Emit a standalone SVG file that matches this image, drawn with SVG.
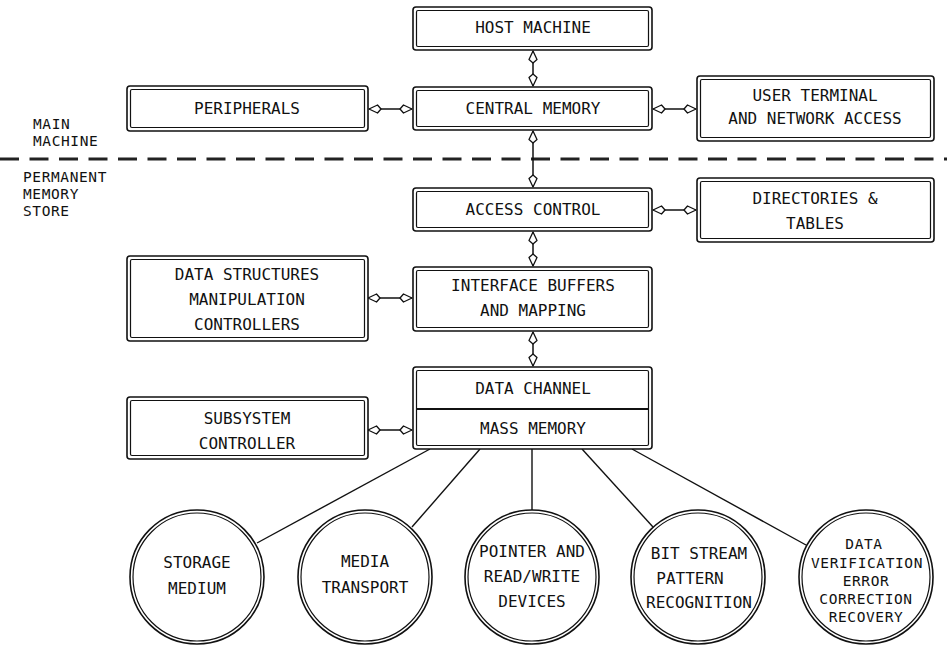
<svg xmlns="http://www.w3.org/2000/svg" width="947" height="646" viewBox="0 0 947 646">
<style>
  .o{fill:#fff;stroke:#111;stroke-width:1.6}
  .i{fill:none;stroke:#111;stroke-width:1.2}
  .t{font-family:"DejaVu Sans Mono","Liberation Mono",monospace;font-size:16px;fill:#111;text-anchor:middle}
  .s{font-family:"DejaVu Sans Mono","Liberation Mono",monospace;font-size:14.5px;letter-spacing:0.6px;fill:#111;text-anchor:middle}
  .l{font-family:"DejaVu Sans Mono","Liberation Mono",monospace;font-size:14.5px;letter-spacing:0.6px;fill:#111}
  .c{fill:none;stroke:#111;stroke-width:1.4}
  .a{fill:none;stroke:#111;stroke-width:1.5;marker-start:url(#ah);marker-end:url(#ah)}
</style>
<defs>
  <marker id="ah" markerUnits="userSpaceOnUse" markerWidth="16" markerHeight="12" viewBox="-14 -6 16 12" refX="0" refY="0" orient="auto-start-reverse">
    <path d="M0,0 L-8.5,-4 L-12,0 L-8.5,4 Z" fill="#fff" stroke="#111" stroke-width="1.3" stroke-linejoin="round"/>
  </marker>
</defs>
<rect width="947" height="646" fill="#fff"/>

<g id="labels">
  <text class="l" x="33" y="129">MAIN</text>
  <text class="l" x="33" y="146">MACHINE</text>
  <text class="l" x="23" y="182">PERMANENT</text>
  <text class="l" x="23" y="199">MEMORY</text>
  <text class="l" x="23" y="216">STORE</text>
  <line x1="0" y1="159" x2="947" y2="159" stroke="#222" stroke-width="3.2" stroke-dasharray="19,10.5"/>
</g>

<g id="connectors">
  <line class="a" x1="533" y1="51" x2="533" y2="86"/>
  <line class="a" x1="533" y1="131" x2="533" y2="187"/>
  <line class="a" x1="533" y1="232" x2="533" y2="266"/>
  <line class="a" x1="533" y1="332" x2="533" y2="366"/>
  <line class="a" x1="369" y1="109" x2="412" y2="109"/>
  <line class="a" x1="653" y1="109" x2="696" y2="109"/>
  <line class="a" x1="653" y1="210" x2="696" y2="210"/>
  <line class="a" x1="368" y1="298" x2="412" y2="298"/>
  <line class="a" x1="368" y1="430" x2="412" y2="430"/>
  <line class="c" x1="430" y1="449" x2="257" y2="543"/>
  <line class="c" x1="480" y1="449" x2="412" y2="527"/>
  <line class="c" x1="532" y1="449" x2="532" y2="510"/>
  <line class="c" x1="582" y1="449" x2="653" y2="527"/>
  <line class="c" x1="632" y1="449" x2="806" y2="545"/>
</g>

<g id="host">
  <rect class="o" x="413" y="7" width="239" height="43" rx="3"/>
  <rect class="i" x="416.5" y="10.5" width="232" height="36" rx="1.5"/>
  <text class="t" x="533" y="33">HOST MACHINE</text>
</g>
<g id="central">
  <rect class="o" x="413" y="87" width="239" height="43" rx="3"/>
  <rect class="i" x="416.5" y="90.5" width="232" height="36" rx="1.5"/>
  <text class="t" x="533" y="114">CENTRAL MEMORY</text>
</g>
<g id="peripherals">
  <rect class="o" x="127" y="86" width="241" height="45" rx="3"/>
  <rect class="i" x="130.5" y="89.5" width="234" height="38" rx="1.5"/>
  <text class="t" x="247" y="114">PERIPHERALS</text>
</g>
<g id="user">
  <rect class="o" x="697" y="76" width="237" height="65" rx="3"/>
  <rect class="i" x="700.5" y="79.5" width="230" height="58" rx="1.5"/>
  <text class="t" x="815" y="101">USER TERMINAL</text>
  <text class="t" x="815" y="124">AND NETWORK ACCESS</text>
</g>
<g id="access">
  <rect class="o" x="413" y="188" width="239" height="43" rx="3"/>
  <rect class="i" x="416.5" y="191.5" width="232" height="36" rx="1.5"/>
  <text class="t" x="533" y="215">ACCESS CONTROL</text>
</g>
<g id="directories">
  <rect class="o" x="697" y="178" width="237" height="64" rx="3"/>
  <rect class="i" x="700.5" y="181.5" width="230" height="57" rx="1.5"/>
  <text class="t" x="815" y="204">DIRECTORIES &amp;</text>
  <text class="t" x="815" y="229">TABLES</text>
</g>
<g id="datastructures">
  <rect class="o" x="127" y="256" width="241" height="85" rx="3"/>
  <rect class="i" x="130.5" y="259.5" width="234" height="78" rx="1.5"/>
  <text class="t" x="247" y="280">DATA STRUCTURES</text>
  <text class="t" x="247" y="305">MANIPULATION</text>
  <text class="t" x="247" y="330">CONTROLLERS</text>
</g>
<g id="interface">
  <rect class="o" x="413" y="267" width="239" height="64" rx="3"/>
  <rect class="i" x="416.5" y="270.5" width="232" height="57" rx="1.5"/>
  <text class="t" x="533" y="291">INTERFACE BUFFERS</text>
  <text class="t" x="533" y="316">AND MAPPING</text>
</g>
<g id="datachannel">
  <rect class="o" x="413" y="367" width="239" height="82" rx="3"/>
  <rect class="i" x="416.5" y="370.5" width="232" height="75" rx="1.5"/>
  <line x1="416.5" y1="409" x2="648.5" y2="409" stroke="#111" stroke-width="1.8"/>
  <text class="t" x="533" y="394">DATA CHANNEL</text>
  <text class="t" x="533" y="434">MASS MEMORY</text>
</g>
<g id="subsystem">
  <rect class="o" x="127" y="397" width="241" height="62" rx="3"/>
  <rect class="i" x="130.5" y="400.5" width="234" height="55" rx="1.5"/>
  <text class="t" x="247" y="424">SUBSYSTEM</text>
  <text class="t" x="247" y="449">CONTROLLER</text>
</g>

<g id="storage">
  <circle class="o" cx="197" cy="577" r="67"/>
  <circle class="i" cx="197" cy="577" r="64"/>
  <text class="t" x="197" y="568">STORAGE</text>
  <text class="t" x="197" y="594">MEDIUM</text>
</g>
<g id="media">
  <circle class="o" cx="365" cy="577" r="67"/>
  <circle class="i" cx="365" cy="577" r="64"/>
  <text class="t" x="365" y="567">MEDIA</text>
  <text class="t" x="365" y="593">TRANSPORT</text>
</g>
<g id="pointer">
  <circle class="o" cx="532" cy="577" r="67"/>
  <circle class="i" cx="532" cy="577" r="64"/>
  <text class="t" x="532" y="557">POINTER AND</text>
  <text class="t" x="532" y="582">READ/WRITE</text>
  <text class="t" x="532" y="607">DEVICES</text>
</g>
<g id="bitstream">
  <circle class="o" cx="698" cy="577" r="67"/>
  <circle class="i" cx="698" cy="577" r="64"/>
  <text class="t" x="699" y="559">BIT STREAM</text>
  <text class="t" x="690" y="584">PATTERN</text>
  <text class="t" x="699" y="608">RECOGNITION</text>
</g>
<g id="verification">
  <circle class="o" cx="866" cy="577" r="67"/>
  <circle class="i" cx="866" cy="577" r="64"/>
  <text class="s" x="864" y="549">DATA</text>
  <text class="s" x="867" y="568">VERIFICATION</text>
  <text class="s" x="866" y="586">ERROR</text>
  <text class="s" x="866" y="604">CORRECTION</text>
  <text class="s" x="866" y="622">RECOVERY</text>
</g>
</svg>
